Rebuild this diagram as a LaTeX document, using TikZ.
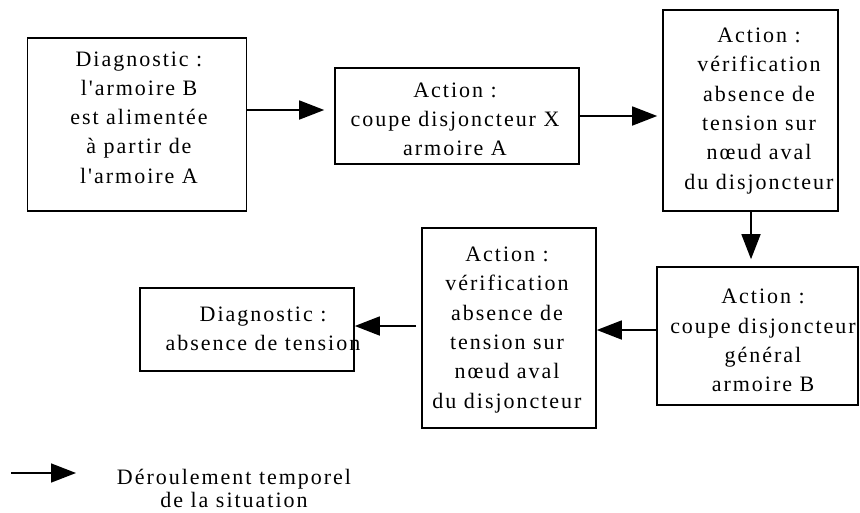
\documentclass[tikz,border=0pt]{standalone}
\usepackage{fontspec}
\setmainfont{Liberation Serif}[LetterSpace=9, Ligatures=TeXOff]
\usetikzlibrary{arrows.meta}
\begin{document}
\begin{tikzpicture}[x=1pt,y=-1pt,
  box/.style={draw=black, line width=1.6pt, fill=none, inner sep=0pt},
  txt/.style={align=center, inner sep=0pt, font=\fontsize{22pt}{29.3pt}\selectfont},
  flow/.style={line width=1.6pt, -{Triangle[length=25pt,width=19pt]}}]
\useasboundingbox (0,0) rectangle (860,512);
% boxes
\node[box, minimum width=219pt, minimum height=173pt] (b1) at (137,124.5) {};
\node[box, minimum width=244pt, minimum height=96pt] (b2) at (457,116) {};
\node[box, minimum width=175pt, minimum height=201pt] (b3) at (750.5,110.5) {};
\node[box, minimum width=201pt, minimum height=138pt] (b6) at (757.5,336) {};
\node[box, minimum width=174pt, minimum height=200pt] (b4) at (509,328) {};
\node[box, minimum width=214pt, minimum height=83pt] (b5) at (247,329.5) {};
% texts
\node[txt] (t1) at (139,117.5) {Diagnostic :\\l'armoire B\\est alimentée\\à partir de\\l'armoire A};
\node[txt] (t2) at (455,119.5) {Action :\\coupe disjoncteur X\\armoire A};
\node[txt] (t3) at (759,111) {Action :\\vérification\\absence de\\tension sur\\nœud aval\\du disjoncteur};
\node[txt] (t6) at (763,340.5) {Action :\\coupe disjoncteur\\général\\armoire B};
\node[txt] (t4) at (507,330) {Action :\\vérification\\absence de\\tension sur\\nœud aval\\du disjoncteur};
\node[txt] (t5) at (263,329) {Diagnostic :\\absence de tension};
% connectors
\draw[flow, shorten >=10pt] (b1.east |- 0,110) -- (b2.west |- 0,110);
\draw[flow, shorten >=5pt] (b2.east |- 0,116) -- (b3.west |- 0,116);
\draw[flow, shorten >=7pt] (b3.south -| 751,0) -- (b6.north -| 751,0);
\draw[flow] (b6.west |- 0,330) -- (b4.east |- 0,330);
\draw[flow, shorten <=5pt] (b4.west |- 0,326) -- (b5.east |- 0,326);
% legend
\coordinate (l1) at (11,473);
\coordinate (l2) at (76,473);
\draw[flow] (l1) -- (l2);
\node[txt, font=\fontsize{22pt}{23pt}\selectfont] (leg) at (234,488.5) {Déroulement temporel\\de la situation};
\end{tikzpicture}
\end{document}
